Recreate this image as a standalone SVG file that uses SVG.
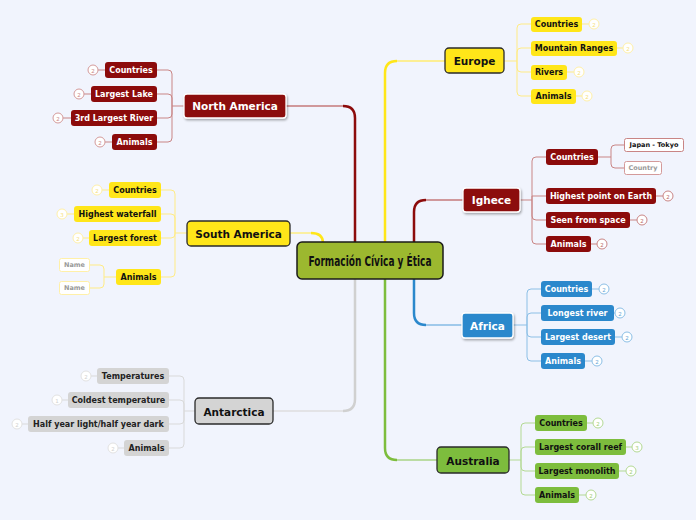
<svg xmlns="http://www.w3.org/2000/svg" width="696" height="520" viewBox="0 0 696 520">
<defs>
<filter id="sh" x="-20%" y="-30%" width="140%" height="170%"><feDropShadow dx="1" dy="1.5" stdDeviation="1" flood-color="#000" flood-opacity="0.35"/></filter>
<style>
text{font-family:"DejaVu Sans","Liberation Sans",sans-serif;font-weight:bold;text-anchor:middle;dominant-baseline:central}
.main{font-size:10.5px}
.sub{font-size:8px}
.bd{font-size:5.5px;font-weight:normal}
.red{fill:#8c0b0b}
.yel{fill:#ffe619}
.gry{fill:#d4d4d4}
.blu{fill:#2b88cc}
.grn{fill:#7dbd3d}
.dk{stroke:#2a2a2a;stroke-width:1.3}
.wt{stroke:#fff;stroke-width:1.3}
.tw{fill:#fff}
.tb{fill:#111}
.c{fill:none}
.cr{stroke:#c98585;stroke-width:1}
.cy{stroke:#ffeb85;stroke-width:1}
.cg{stroke:#d9d9d9;stroke-width:1}
.cb{stroke:#8cbfe6;stroke-width:1}
.cn{stroke:#b3d993;stroke-width:1}
.b{fill:#fff;stroke-width:1}
.v{stroke-width:2.5}
.h{stroke-width:1.3}
</style>
</defs>
<rect width="696" height="520" fill="#f1f4fd"/>

<g id="connectors" fill="none">
<path class="v" d="M355,243 V118 Q355,106 343,106" stroke="#8c0b0b"/>
<path class="h" d="M343,106 H286" stroke="#c47a7a"/>
<path class="v" d="M385,243 V73 Q385,61 397,61" stroke="#ffe619"/>
<path class="h" d="M397,61 H445" stroke="#ffec70"/>
<path class="v" d="M414,243 V212 Q414,200 426,200" stroke="#8c0b0b"/>
<path class="h" d="M426,200 H463" stroke="#c47a7a"/>
<path class="v" d="M323,243 Q323,233 311,233" stroke="#ffe619"/>
<path class="h" d="M311,233 H290" stroke="#ffec70"/>
<path class="v" d="M355,279 V399 Q355,411 343,411" stroke="#d0d0d0"/>
<path class="h" d="M343,411 H273" stroke="#dedede"/>
<path class="v" d="M385,279 V448 Q385,460 397,460" stroke="#7dbd3d"/>
<path class="h" d="M397,460 H437" stroke="#a9d486"/>
<path class="v" d="M414,279 V313 Q414,325 426,325" stroke="#2b88cc"/>
<path class="h" d="M426,325 H462" stroke="#84bbe4"/>

<!-- North America children -->
<g class="c cr">
<path d="M184,106 H172 M172,106 V74 Q172,70 168,70 H157 M172,106 V98 Q172,94 168,94 H157 M172,106 V114 Q172,118 168,118 H157 M172,106 V138 Q172,142 168,142 H157"/>
<path d="M98,70 H105 M84,94 H91 M63,118 H71 M105,142 H112"/>
</g>
<!-- South America -->
<g class="c cy">
<path d="M187,233 H175 M175,233 V194 Q175,190 171,190 H161 M175,233 V218 Q175,214 171,214 H161 M175,233 V234 Q175,238 171,238 H161 M175,233 V273 Q175,277 171,277 H161"/>
<path d="M102,190 H109 M67,214 H74 M83,238 H89"/>
<path d="M116,277 H104 M104,277 V269 Q104,265 100,265 H90 M104,277 V284 Q104,288 100,288 H90"/>
</g>
<!-- Antarctica -->
<g class="c cg">
<path d="M195,411 H184 M184,411 V380 Q184,376 180,376 H169 M184,411 V404 Q184,400 180,400 H169 M184,411 V420 Q184,424 180,424 H169 M184,411 V444 Q184,448 180,448 H169"/>
<path d="M91,376 H97 M62,400 H68 M22,424 H28 M118,448 H124"/>
</g>
<!-- Europe -->
<g class="c cy">
<path d="M504,61 H517 M517,61 V28 Q517,24 521,24 H531 M517,61 V52 Q517,48 521,48 H531 M517,61 V68 Q517,72 521,72 H531 M517,61 V92 Q517,96 521,96 H531"/>
<path d="M582,24 H589 M617,48 H623 M567,72 H574 M576,96 H582"/>
</g>
<!-- Ighece -->
<g class="c cr">
<path d="M520,200 H532 M532,200 V161 Q532,157 536,157 H546 M532,200 V196 H546 M532,200 V216 Q532,220 536,220 H546 M532,200 V240 Q532,244 536,244 H546"/>
<path d="M656,196 H663 M630,220 H637 M591,244 H597"/>
<path d="M598,157 H611 M611,157 V149 Q611,145 615,145 H624 M611,157 V164 Q611,168 615,168 H624"/>
</g>
<!-- Africa -->
<g class="c cb">
<path d="M513,325 H527 M527,325 V293 Q527,289 531,289 H541 M527,325 V317 Q527,313 531,313 H541 M527,325 V333 Q527,337 531,337 H541 M527,325 V357 Q527,361 531,361 H541"/>
<path d="M592,289 H599 M614,313 H615 M615,337 H622 M585,361 H592"/>
</g>
<!-- Australia -->
<g class="c cn">
<path d="M509,460 H521 M521,460 V427 Q521,423 525,423 H535 M521,460 V451 Q521,447 525,447 H535 M521,460 V467 Q521,471 525,471 H535 M521,460 V491 Q521,495 525,495 H535"/>
<path d="M587,423 H593 M626,447 H632 M619,471 H626 M579,495 H586"/>
</g>
</g>

<g id="central">
<rect x="297" y="242" width="146" height="37" rx="5" fill="#9cb82f" stroke="#1a1a1a" stroke-width="1.5"/>
<text x="370" y="261" style="font-family:'DejaVu Sans Condensed','DejaVu Sans',sans-serif;font-size:14px" textLength="123" lengthAdjust="spacingAndGlyphs" fill="#111">Formación Cívica y Ética</text>
</g>

<g id="north-america">
<rect x="184" y="94" width="102" height="24" rx="3" class="red wt" filter="url(#sh)"/>
<text x="235" y="106" class="main tw">North America</text>
</g>
<g id="na-countries"><rect x="105" y="62" width="52" height="16" rx="3" class="red"/><text x="131" y="70" class="sub tw">Countries</text><circle cx="93" cy="70" r="5" class="b" stroke="#d49a9a"/><text x="93" y="70.5" class="bd" fill="#c98585">2</text></g>
<g id="na-lake"><rect x="91" y="86" width="66" height="16" rx="3" class="red"/><text x="124" y="94" class="sub tw">Largest Lake</text><circle cx="79" cy="94" r="5" class="b" stroke="#d49a9a"/><text x="79" y="94.5" class="bd" fill="#c98585">2</text></g>
<g id="na-river"><rect x="71" y="110" width="86" height="16" rx="3" class="red"/><text x="114" y="118" class="sub tw">3rd Largest River</text><circle cx="58" cy="118" r="5" class="b" stroke="#d49a9a"/><text x="58" y="118.5" class="bd" fill="#c98585">2</text></g>
<g id="na-animals"><rect x="112" y="134" width="45" height="16" rx="3" class="red"/><text x="134.5" y="142" class="sub tw">Animals</text><circle cx="100" cy="142" r="5" class="b" stroke="#d49a9a"/><text x="100" y="142.5" class="bd" fill="#c98585">2</text></g>

<g id="south-america">
<rect x="187" y="221" width="103" height="25" rx="4" class="yel dk"/>
<text x="238.5" y="233.5" class="main tb">South America</text>
</g>
<g id="sa-countries"><rect x="109" y="182" width="52" height="16" rx="3" class="yel"/><text x="135" y="190" class="sub tb">Countries</text><circle cx="97" cy="190" r="5" class="b" stroke="#fff0a8"/><text x="97" y="190.5" class="bd" fill="#f5e07a">2</text></g>
<g id="sa-waterfall"><rect x="74" y="206" width="87" height="16" rx="3" class="yel"/><text x="117.5" y="214" class="sub tb">Highest waterfall</text><circle cx="62" cy="214" r="5" class="b" stroke="#fff0a8"/><text x="62" y="214.5" class="bd" fill="#f5e07a">3</text></g>
<g id="sa-forest"><rect x="89" y="230" width="72" height="16" rx="3" class="yel"/><text x="125" y="238" class="sub tb">Largest forest</text><circle cx="78" cy="238" r="5" class="b" stroke="#fff0a8"/><text x="78" y="238.5" class="bd" fill="#f5e07a">2</text></g>
<g id="sa-animals"><rect x="116" y="269" width="45" height="16" rx="3" class="yel"/><text x="138.5" y="277" class="sub tb">Animals</text></g>
<g id="sa-name1"><rect x="59.5" y="258.5" width="30" height="13" rx="2" fill="#fff" stroke="#fff0a8"/><text x="74.5" y="265" style="font-size:6.5px" fill="#999">Name</text></g>
<g id="sa-name2"><rect x="59.5" y="281.5" width="30" height="13" rx="2" fill="#fff" stroke="#fff0a8"/><text x="74.5" y="288" style="font-size:6.5px" fill="#999">Name</text></g>

<g id="antarctica">
<rect x="195" y="398" width="78" height="26" rx="4" class="gry dk"/>
<text x="234" y="411.5" class="main tb">Antarctica</text>
</g>
<g id="an-temp"><rect x="97" y="368" width="72" height="16" rx="3" class="gry"/><text x="133" y="376" class="sub" fill="#222">Temperatures</text><circle cx="86" cy="376" r="5" class="b" stroke="#e2e2e2"/><text x="86" y="376.5" class="bd" fill="#d0d0d0">2</text></g>
<g id="an-cold"><rect x="68" y="392" width="101" height="16" rx="3" class="gry"/><text x="118.5" y="400" class="sub" fill="#222">Coldest temperature</text><circle cx="57" cy="400" r="5" class="b" stroke="#e2e2e2"/><text x="57" y="400.5" class="bd" fill="#d0d0d0">1</text></g>
<g id="an-half"><rect x="28" y="416" width="141" height="16" rx="3" class="gry"/><text x="98.5" y="424" class="sub" fill="#222">Half year light/half year dark</text><circle cx="17" cy="424" r="5" class="b" stroke="#e2e2e2"/><text x="17" y="424.5" class="bd" fill="#d0d0d0">2</text></g>
<g id="an-animals"><rect x="124" y="440" width="45" height="16" rx="3" class="gry"/><text x="146.5" y="448" class="sub" fill="#222">Animals</text><circle cx="113" cy="448" r="5" class="b" stroke="#e2e2e2"/><text x="113" y="448.5" class="bd" fill="#d0d0d0">2</text></g>

<g id="europe">
<rect x="445" y="48" width="59" height="25" rx="4" class="yel dk"/>
<text x="474.5" y="60.5" class="main tb">Europe</text>
</g>
<g id="eu-countries"><rect x="531" y="17" width="51" height="15" rx="3" class="yel"/><text x="556.5" y="24.5" class="sub tb">Countries</text><circle cx="594" cy="24" r="5" class="b" stroke="#fff0a8"/><text x="594" y="24.5" class="bd" fill="#f5e07a">2</text></g>
<g id="eu-mountain"><rect x="531" y="41" width="86" height="15" rx="3" class="yel"/><text x="574" y="48.5" class="sub tb">Mountain Ranges</text><circle cx="628" cy="48" r="5" class="b" stroke="#fff0a8"/><text x="628" y="48.5" class="bd" fill="#f5e07a">2</text></g>
<g id="eu-rivers"><rect x="531" y="65" width="36" height="15" rx="3" class="yel"/><text x="549" y="72.5" class="sub tb">Rivers</text><circle cx="579" cy="72" r="5" class="b" stroke="#fff0a8"/><text x="579" y="72.5" class="bd" fill="#f5e07a">2</text></g>
<g id="eu-animals"><rect x="531" y="89" width="45" height="15" rx="3" class="yel"/><text x="553.5" y="96.5" class="sub tb">Animals</text><circle cx="587" cy="96" r="5" class="b" stroke="#fff0a8"/><text x="587" y="96.5" class="bd" fill="#f5e07a">2</text></g>

<g id="ighece">
<rect x="463" y="188" width="57" height="24" rx="3" class="red wt" filter="url(#sh)"/>
<text x="491.5" y="200" class="main tw">Ighece</text>
</g>
<g id="ig-countries"><rect x="546" y="149" width="52" height="16" rx="3" class="red"/><text x="572" y="157" class="sub tw">Countries</text></g>
<g id="ig-japan"><rect x="624.5" y="138.5" width="59" height="13" rx="2" fill="#fff" stroke="#c98585"/><text x="654" y="145" style="font-size:6.5px" fill="#111">Japan - Tokyo</text></g>
<g id="ig-country"><rect x="624.5" y="161.5" width="37" height="13" rx="2" fill="#fff" stroke="#d49a9a"/><text x="643" y="168" style="font-size:6.5px" fill="#999">Country</text></g>
<g id="ig-highest"><rect x="546" y="188" width="110" height="16" rx="3" class="red"/><text x="601" y="196" class="sub tw">Highest point on Earth</text><circle cx="668" cy="196" r="5" class="b" stroke="#c98585"/><text x="668" y="196.5" class="bd" fill="#b86a6a">2</text></g>
<g id="ig-seen"><rect x="546" y="212" width="84" height="16" rx="3" class="red"/><text x="588" y="220" class="sub tw">Seen from space</text><circle cx="642" cy="220" r="5" class="b" stroke="#c98585"/><text x="642" y="220.5" class="bd" fill="#b86a6a">2</text></g>
<g id="ig-animals"><rect x="546" y="236" width="45" height="16" rx="3" class="red"/><text x="568.5" y="244" class="sub tw">Animals</text><circle cx="602" cy="244" r="5" class="b" stroke="#c98585"/><text x="602" y="244.5" class="bd" fill="#b86a6a">2</text></g>

<g id="africa">
<rect x="462" y="313" width="51" height="25" rx="3" class="blu wt" filter="url(#sh)"/>
<text x="487.5" y="325.5" class="main tw">Africa</text>
</g>
<g id="af-countries"><rect x="541" y="281" width="51" height="16" rx="3" class="blu"/><text x="566.5" y="289" class="sub tw">Countries</text><circle cx="604" cy="289" r="5" class="b" stroke="#8cbfe6"/><text x="604" y="289.5" class="bd" fill="#5fa3d6">2</text></g>
<g id="af-river"><rect x="541" y="305" width="73" height="16" rx="3" class="blu"/><text x="577.5" y="313" class="sub tw">Longest river</text><circle cx="620" cy="313" r="5" class="b" stroke="#8cbfe6"/><text x="620" y="313.5" class="bd" fill="#5fa3d6">2</text></g>
<g id="af-desert"><rect x="541" y="329" width="74" height="16" rx="3" class="blu"/><text x="578" y="337" class="sub tw">Largest desert</text><circle cx="627" cy="337" r="5" class="b" stroke="#8cbfe6"/><text x="627" y="337.5" class="bd" fill="#5fa3d6">2</text></g>
<g id="af-animals"><rect x="541" y="353" width="44" height="16" rx="3" class="blu"/><text x="563" y="361" class="sub tw">Animals</text><circle cx="597" cy="361" r="5" class="b" stroke="#8cbfe6"/><text x="597" y="361.5" class="bd" fill="#5fa3d6">2</text></g>

<g id="australia">
<rect x="437" y="447" width="72" height="26" rx="4" class="grn dk"/>
<text x="473" y="460.5" class="main tb">Australia</text>
</g>
<g id="au-countries"><rect x="535" y="415" width="52" height="16" rx="3" class="grn"/><text x="561" y="423" class="sub tb">Countries</text><circle cx="598" cy="423" r="5" class="b" stroke="#b3d993"/><text x="598" y="423.5" class="bd" fill="#9ccb74">2</text></g>
<g id="au-reef"><rect x="535" y="439" width="91" height="16" rx="3" class="grn"/><text x="580.5" y="447" class="sub tb">Largest corall reef</text><circle cx="637" cy="447" r="5" class="b" stroke="#b3d993"/><text x="637" y="447.5" class="bd" fill="#9ccb74">3</text></g>
<g id="au-monolith"><rect x="535" y="463" width="84" height="16" rx="3" class="grn"/><text x="577" y="471" class="sub tb">Largest monolith</text><circle cx="631" cy="471" r="5" class="b" stroke="#b3d993"/><text x="631" y="471.5" class="bd" fill="#9ccb74">2</text></g>
<g id="au-animals"><rect x="535" y="487" width="44" height="16" rx="3" class="grn"/><text x="557" y="495" class="sub tb">Animals</text><circle cx="591" cy="495" r="5" class="b" stroke="#b3d993"/><text x="591" y="495.5" class="bd" fill="#9ccb74">2</text></g>
</svg>
